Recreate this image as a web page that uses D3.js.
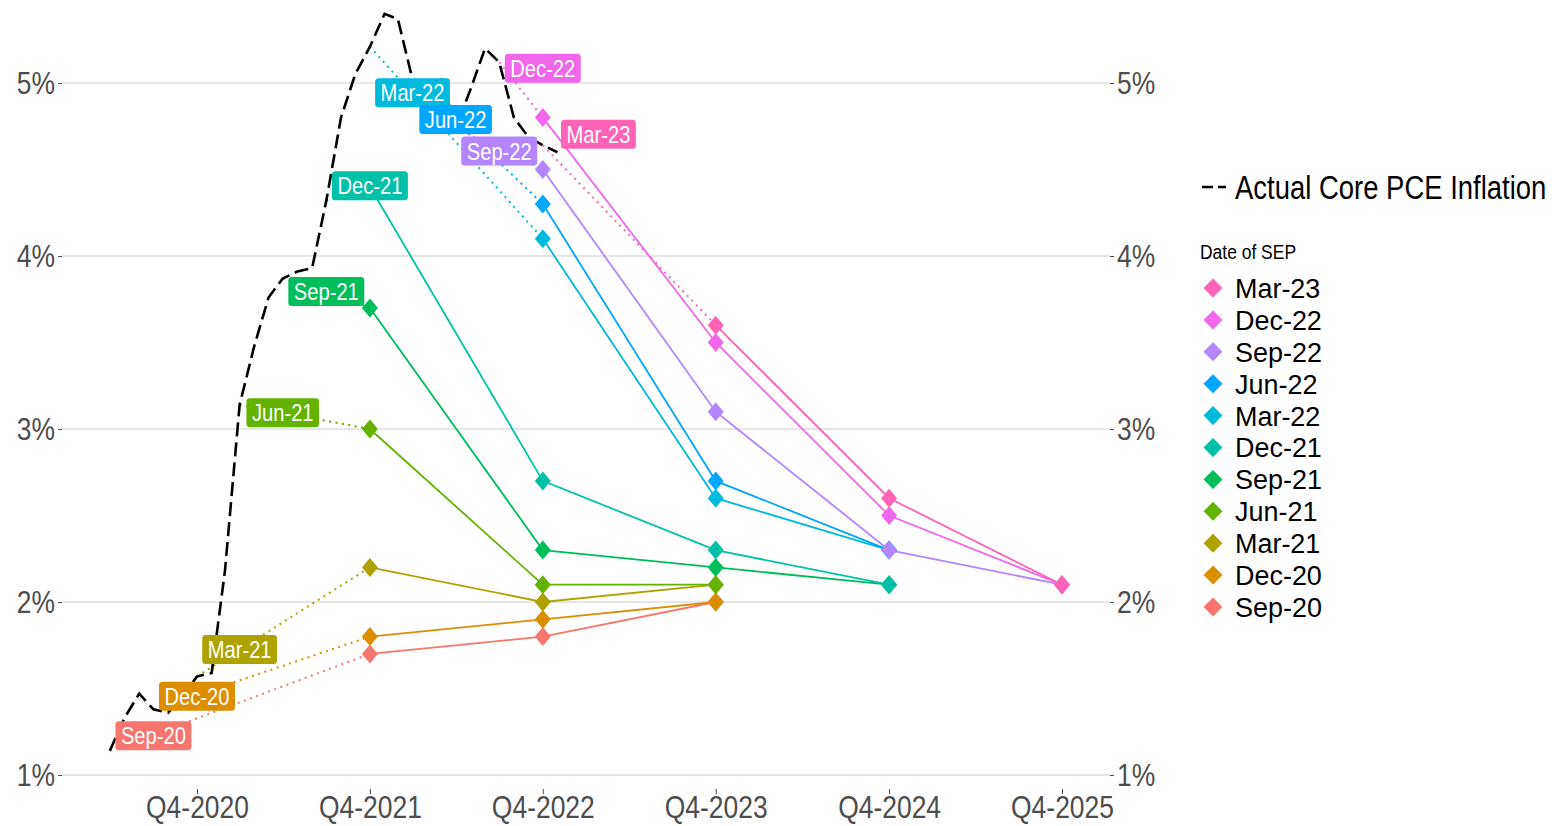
<!DOCTYPE html>
<html>
<head>
<meta charset="utf-8">
<script src="https://cdn.jsdelivr.net/npm/d3@7"></script>
<style>
  body { margin: 0; background: #fff; }
  svg { font-family: "Liberation Sans", Arial, sans-serif; display: block; }
</style>
</head>
<body>
<svg id="chart"></svg>
<script>
// actual core PCE inflation (y/y, %), monthly
const actualMonths = [
  "2020-07", "2020-08", "2020-09", "2020-10", "2020-11", "2020-12",
  "2021-01", "2021-02", "2021-03", "2021-04", "2021-05", "2021-06",
  "2021-07", "2021-08", "2021-09", "2021-10", "2021-11", "2021-12",
  "2022-01", "2022-02", "2022-03", "2022-04", "2022-05", "2022-06",
  "2022-07", "2022-08", "2022-09", "2022-10", "2022-11", "2022-12",
  "2023-01", "2023-02"
];
const actualValues = [
  1.14, 1.33, 1.47, 1.38, 1.36, 1.45,
  1.57, 1.59, 2.18, 3.14, 3.47, 3.76,
  3.87, 3.91, 3.93, 4.32, 4.80, 5.05,
  5.21, 5.40, 5.37, 5.02, 4.95, 5.03,
  4.74, 4.96, 5.20, 5.12, 4.80, 4.69,
  4.64, 4.60
];

// SEP vintages, the actual reading each one starts from, and its Q4 projections
const sepNames = ["Sep-20", "Dec-20", "Mar-21", "Jun-21", "Sep-21", "Dec-21",
                  "Mar-22", "Jun-22", "Sep-22", "Dec-22", "Mar-23"];
const sepStart = ["2020-07", "2020-10", "2021-01", "2021-04", "2021-07", "2021-10",
                  "2022-01", "2022-04", "2022-07", "2022-10", "2023-01"];
const sepFirstYear = [2021, 2021, 2021, 2021, 2021, 2021, 2022, 2022, 2022, 2022, 2023];
const sepProjections = [
  [1.7, 1.8, 2.0],
  [1.8, 1.9, 2.0],
  [2.2, 2.0, 2.1],
  [3.0, 2.1, 2.1],
  [3.7, 2.3, 2.2, 2.1],
  [4.4, 2.7, 2.3, 2.1],
  [4.1, 2.6, 2.3],
  [4.3, 2.7, 2.3],
  [4.5, 3.1, 2.3, 2.1],
  [4.8, 3.5, 2.5, 2.1],
  [3.6, 2.6, 2.1]
];

const xTickYears = [2020, 2021, 2022, 2023, 2024, 2025];
const yTicks = [1, 2, 3, 4, 5];

// styling
const colors = ["#F8766D", "#DB8E00", "#AEA200", "#64B200", "#00BD5C", "#00C1A7",
                "#00BADE", "#00A6FF", "#B385FF", "#EF67EB", "#FF63B6"];
// label nudges (px) relative to the SEP date / starting reading
const labelDx = [0, 0, 0, 0, 0, 0, 0, 0, 0, 0, 13];
const labelDy = [-15, -13, -27, 8, 13, -15, 46, 40, 23, 6, -11];

const SX = 0.84; // horizontal squeeze of text
const width = 1552, height = 826;

const svg = d3.select("#chart").attr("width", width).attr("height", height);

const parseMonth = d3.timeParse("%Y-%m");
const q4Date = yr => new Date(yr + 1, 0, 1);

const x = d3.scaleTime()
  .domain([q4Date(2020), q4Date(2025)])
  .range([197, 1062]);
const y = d3.scaleLinear().domain([1, 5]).range([775, 83]);

const panelLeft = 62, panelRight = 1110, panelBottom = 789;

function squash(sel, sx = SX) {
  sel.each(function () {
    const t = d3.select(this);
    const tx = +t.attr("x") || 0;
    t.attr("x", tx / sx).attr("transform", `scale(${sx},1)`);
  });
}

// gridlines
svg.append("g")
  .selectAll("line")
  .data(yTicks)
  .join("line")
  .attr("x1", panelLeft).attr("x2", panelRight)
  .attr("y1", d => y(d)).attr("y2", d => y(d))
  .attr("stroke", "#dedede")
  .attr("stroke-width", 1.5);

// axes
const axisStyle = g => {
  g.select(".domain").remove();
  g.selectAll(".tick line").attr("stroke", "#4d4d4d").attr("stroke-width", 1);
  g.selectAll(".tick text").attr("fill", "#4d4d4d").attr("font-size", 31.5);
  g.attr("font-family", null);
  squash(g.selectAll(".tick text"));
};

svg.append("g")
  .attr("transform", `translate(${panelLeft},0)`)
  .call(d3.axisLeft(y).tickValues(yTicks).tickFormat(d => d + "%").tickSize(4).tickPadding(3))
  .call(axisStyle);

svg.append("g")
  .attr("transform", `translate(${panelRight},0)`)
  .call(d3.axisRight(y).tickValues(yTicks).tickFormat(d => d + "%").tickSize(4).tickPadding(3))
  .call(axisStyle);

svg.append("g")
  .attr("transform", `translate(0,${panelBottom})`)
  .call(d3.axisBottom(x).tickValues(xTickYears.map(q4Date))
    .tickFormat(d => "Q4-" + (d.getFullYear() - 1)).tickSize(5).tickPadding(2))
  .call(axisStyle);

// build series
const actual = actualMonths.map((m, i) => ({ date: parseMonth(m), value: actualValues[i] }));
const actualByMonth = new Map(actualMonths.map((m, i) => [m, actualValues[i]]));

const series = sepNames.map((name, i) => {
  const startDate = parseMonth(sepStart[i]);
  const start = { date: startDate, value: actualByMonth.get(sepStart[i]) };
  const proj = sepProjections[i].map((v, k) => ({ date: q4Date(sepFirstYear[i] + k), value: v }));
  return { name, color: colors[i], start, proj, labelDate: d3.timeMonth.offset(startDate, 3), i };
});

const line = d3.line().x(d => x(d.date)).y(d => y(d.value));

// dotted links from the latest reading to the first projection
svg.append("g")
  .selectAll("path")
  .data(series)
  .join("path")
  .attr("d", s => line([s.start, s.proj[0]]))
  .attr("fill", "none")
  .attr("stroke", s => s.color)
  .attr("stroke-width", 2)
  .attr("stroke-dasharray", "2,4.5");

// projection paths
svg.append("g")
  .selectAll("path")
  .data(series)
  .join("path")
  .attr("d", s => line(s.proj))
  .attr("fill", "none")
  .attr("stroke", s => s.color)
  .attr("stroke-width", 1.8);

// diamonds
const diamond = (hw, hh) => `M0,${-hh}L${hw},0L0,${hh}L${-hw},0Z`;

svg.append("g")
  .selectAll("g")
  .data(series)
  .join("g")
  .each(function (s) {
    d3.select(this).selectAll("path")
      .data(s.proj)
      .join("path")
      .attr("d", diamond(8, 9.5))
      .attr("transform", d => `translate(${x(d.date)},${y(d.value)})`)
      .attr("fill", s.color);
  });

// actual core PCE
svg.append("path")
  .datum(actual)
  .attr("d", line)
  .attr("fill", "none")
  .attr("stroke", "#000")
  .attr("stroke-width", 2.6)
  .attr("stroke-dasharray", "14,6");

// labels
const labels = svg.append("g")
  .selectAll("g")
  .data(series)
  .join("g")
  .attr("transform", s =>
    `translate(${x(s.labelDate) + labelDx[s.i]},${y(s.start.value) + labelDy[s.i]})`);

labels.append("rect").attr("fill", s => s.color).attr("rx", 3.5).attr("ry", 3.5);
labels.append("text")
  .text(s => s.name)
  .attr("fill", "#fff")
  .attr("font-size", 24)
  .attr("text-anchor", "middle")
  .attr("dy", "0.36em")
  .call(squash);
labels.each(function () {
  const g = d3.select(this);
  const w = g.select("text").node().getComputedTextLength() * SX + 11;
  g.select("rect").attr("x", -w / 2).attr("y", -14.5).attr("width", w).attr("height", 29);
});

// legend
const legend = svg.append("g");

legend.append("line")
  .attr("x1", 1202).attr("x2", 1226).attr("y1", 187).attr("y2", 187)
  .attr("stroke", "#000").attr("stroke-width", 2.5)
  .attr("stroke-dasharray", "11,5");

legend.append("g")
  .attr("transform", "translate(1235,187)")
  .append("text")
  .text("Actual Core PCE Inflation")
  .attr("font-size", 32.7)
  .attr("dy", "0.36em")
  .call(squash);

legend.append("g")
  .attr("transform", "translate(1200,252)")
  .append("text")
  .text("Date of SEP")
  .attr("font-size", 20.8)
  .attr("dy", "0.36em")
  .call(squash);

const legendRows = legend.append("g")
  .selectAll("g")
  .data(series.slice().reverse())
  .join("g")
  .attr("transform", (s, k) => `translate(1213,${288 + k * 31.9})`);

legendRows.append("path")
  .attr("d", diamond(9.5, 9.5))
  .attr("fill", s => s.color);

legendRows.append("text")
  .text(s => s.name)
  .attr("x", 22)
  .attr("font-size", 27.5)
  .attr("dy", "0.36em")
  .call(squash, 0.98);
</script>
</body>
</html>
